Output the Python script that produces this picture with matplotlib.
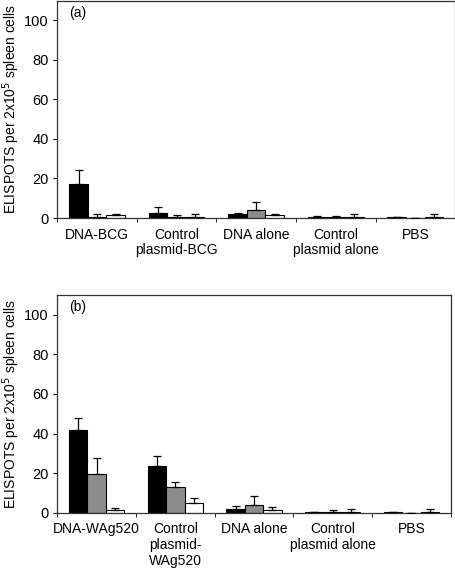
import numpy as np
import matplotlib
matplotlib.use("Agg")
import matplotlib.pyplot as plt

plt.rcParams['font.family'] = ['Liberation Sans', 'DejaVu Sans']
plt.rcParams['font.size'] = 10

# Panel (a)
labels_a = ["DNA-BCG", "Control\nplasmid-BCG", "DNA alone", "Control\nplasmid alone", "PBS"]
black_a = [17.4, 2.7, 2.1, 0.3, 0.3]
black_a_err = [6.8, 3.0, 0.5, 0.5, 0.0]
gray_a = [0.5, 0.7, 4.0, 0.6, 0.0]
gray_a_err = [1.4, 0.6, 4.3, 0.6, 0.0]
white_a = [1.4, 0.5, 1.4, 0.6, 0.6]
white_a_err = [0.5, 1.4, 0.6, 1.4, 1.4]

# Panel (b)
labels_b = ["DNA-WAg520", "Control\nplasmid-\nWAg520", "DNA alone", "Control\nplasmid alone", "PBS"]
black_b = [42.0, 23.5, 2.0, 0.4, 0.3]
black_b_err = [5.9, 4.9, 1.4, 0.0, 0.0]
gray_b = [19.4, 12.8, 4.0, 0.5, 0.0]
gray_b_err = [8.3, 2.7, 4.6, 0.8, 0.0]
white_b = [1.2, 5.1, 1.2, 0.5, 0.5]
white_b_err = [1.3, 2.5, 1.5, 1.5, 1.5]

colors = ["black", "#8c8c8c", "white"]
ylabel = "ELISPOTS per 2x10$^5$ spleen cells"


def draw_panel(ax, labels, series, errs, tag):
    n = len(labels)
    x = np.arange(n)
    w = 0.7 / 3
    for k in range(3):
        pos = x + (k - 1) * w
        ax.bar(pos, series[k], width=w, color=colors[k], edgecolor="black", linewidth=0.8, zorder=2)
        ax.errorbar(pos, series[k], yerr=[np.zeros(n), errs[k]], fmt="none",
                    ecolor="black", elinewidth=0.9, capsize=2.8, capthick=0.9, zorder=3)
    ax.set_xlim(-0.5, n - 0.5)
    ax.set_ylim(0, 110)
    ax.set_yticks([0, 20, 40, 60, 80, 100])
    ax.set_xticks(x)
    ax.set_xticklabels(labels, linespacing=1.15)
    ax.set_xticks(np.arange(n + 1) - 0.5, minor=True)
    ax.tick_params(axis="x", which="major", length=0, pad=7)
    ax.tick_params(axis="x", which="minor", length=3, direction="out")
    ax.tick_params(axis="y", length=3, direction="out", pad=3, labelsize=10.5)
    for s in ax.spines.values():
        s.set_color("#333333")
        s.set_linewidth(0.9)
    ax.set_ylabel(ylabel, labelpad=2)
    ax.text(0.03, 0.975, tag, transform=ax.transAxes, ha="left", va="top")


fig = plt.figure(figsize=(4.56, 5.70), dpi=100)
ax1 = fig.add_axes([0.1257, 0.6175, 0.8723, 0.3815])
ax2 = fig.add_axes([0.1257, 0.1005, 0.8627, 0.382])

draw_panel(ax1, labels_a, [black_a, gray_a, white_a], [black_a_err, gray_a_err, white_a_err], "(a)")
draw_panel(ax2, labels_b, [black_b, gray_b, white_b], [black_b_err, gray_b_err, white_b_err], "(b)")

fig.savefig("out.png", dpi=100)
